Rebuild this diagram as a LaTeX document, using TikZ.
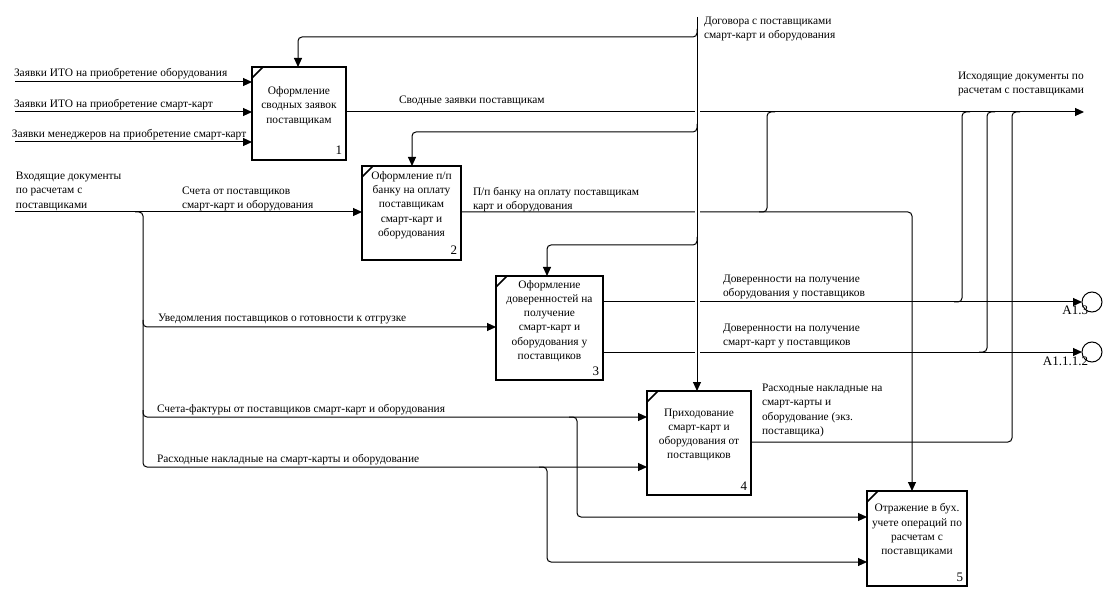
\documentclass[tikz,border=0pt]{standalone}
\usepackage{fontspec}
\setmainfont{Liberation Serif}
\usetikzlibrary{arrows.meta}
\newcommand{\lblfont}{\fontsize{11.4}{14.3}\selectfont}
\newcommand{\numfont}{\fontsize{13}{14}\selectfont}
\begin{document}
\begin{tikzpicture}[x=1pt,y=-1pt,
  every node/.style={inner sep=0pt, outer sep=0pt},
  conn/.style={line width=1pt, rounded corners=4pt},
  arr/.style={conn, -{Triangle[length=9pt,width=8pt]}},
  fbox/.style={draw, line width=2.2pt, outer sep=0pt},
  btext/.style={font=\lblfont, align=center},
  bnum/.style={font=\numfont, anchor=base east},
  lbl/.style={font=\lblfont, align=left, anchor=north west},
  tun/.style={draw, circle, line width=1pt, minimum size=20pt},
  tunlbl/.style={font=\numfont, anchor=base east}]
\useasboundingbox (0,0) rectangle (1104,604);

% ---------------- boxes ----------------
\node[fbox, minimum width=94pt, minimum height=93pt] (b1) at (299,113.5) {};
\node[fbox, minimum width=99pt, minimum height=94pt] (b2) at (411.5,213) {};
\node[fbox, minimum width=107pt, minimum height=104pt] (b3) at (549.5,328) {};
\node[fbox, minimum width=104pt, minimum height=104pt] (b4) at (699,443) {};
\node[fbox, minimum width=100pt, minimum height=95pt] (b5) at (917,538.5) {};

\foreach \b in {b1,b2,b3,b4,b5}
  \draw[line width=1.5pt] ([yshift=-11pt]\b.north west) -- ([xshift=11pt]\b.north west);

\node[btext] (t1) at ([yshift=7.5pt]b1.center) {Оформление\\сводных заявок\\поставщикам};
\node[btext] (t2) at ([yshift=8pt]b2.center) {Оформление п/п\\банку на оплату\\поставщикам\\смарт-карт и\\оборудования};
\node[btext] (t3) at ([yshift=7pt]b3.center) {Оформление\\доверенностей на\\получение\\смарт-карт и\\оборудования у\\поставщиков};
\node[btext] (t4) at ([yshift=8pt]b4.center) {Приходование\\смарт-карт и\\оборудования от\\поставщиков};
\node[btext] (t5) at ([yshift=8pt]b5.center) {Отражение в бух.\\учете операций по\\расчетам с\\поставщиками};

\node[bnum] (n1) at ([xshift=-4pt,yshift=5pt]b1.south east) {1};
\node[bnum] (n2) at ([xshift=-4pt,yshift=5pt]b2.south east) {2};
\node[bnum] (n3) at ([xshift=-4pt,yshift=5pt]b3.south east) {3};
\node[bnum] (n4) at ([xshift=-4pt,yshift=5pt]b4.south east) {4};
\node[bnum] (n5) at ([xshift=-4pt,yshift=5pt]b5.south east) {5};

% ---------------- free ends ----------------
\coordinate (i1) at (15,82);
\coordinate (i2) at (15,112);
\coordinate (i3) at (15,142);
\coordinate (inL) at (15,212);
\coordinate (dTop) at (697,17);
\coordinate (oEnd) at (1084,112);
\coordinate (pp) at (912,212);

\node[tun] (tun1) at (1092,302) {};
\node[tun] (tun2) at (1092,352) {};

% ---------------- horizontal lines crossing the control line ----------------
\draw[arr] (b1.east |- oEnd) -- (oEnd);
\draw[arr] (b2.east |- pp) -- (pp) -- (pp |- b5.north);
\draw[arr] (b3.east |- tun1.west) -- (tun1.west);
\draw[arr] (b3.east |- tun2.west) -- (tun2.west);

% gap in crossing lines
\draw[white, line width=5pt] (697,20) -- (697,385);

% ---------------- control: contracts ----------------
\draw[arr] (dTop) -- (dTop |- b4.north);
\draw[arr] (697,29) -- (697,37) -- (298,37) -- (298,67);
\draw[arr] (697,124) -- (697,132) -- (412,132) -- (412,166);
\draw[arr] (697,237) -- (697,245) -- (547,245) -- (547,276);

% ---------------- inputs to box 1 ----------------
\draw[arr] (i1) -- (i1 -| b1.west);
\draw[arr] (i2) -- (i2 -| b1.west);
\draw[arr] (i3) -- (i3 -| b1.west);

% ---------------- joins into outgoing documents ----------------
\draw[conn] (759,212) -- (767,212) -- (767,112) -- (775,112);
\draw[conn] (954,302) -- (962,302) -- (962,112) -- (970,112);
\draw[conn] (979,352) -- (987,352) -- (987,112) -- (995,112);
\draw[conn] (b4.east |- 0,442) -- (1012,442) -- (1012,112) -- (1020,112);

% ---------------- incoming documents ----------------
\draw[arr] (inL) -- (inL -| b2.west);
\draw[arr] (135,212) -- (143,212) -- (143,467) -- (b4.west |- 0,467);
\draw[arr] (143,320) -- (143,327) -- (b3.west |- 0,327);
\draw[arr] (143,410) -- (143,417) -- (b4.west |- 0,417);
\draw[arr] (569,417) -- (577,417) -- (577,517) -- (b5.west |- 0,517);
\draw[arr] (539,467) -- (547,467) -- (547,562) -- (b5.west |- 0,562);

% ---------------- labels ----------------
\node[lbl] (l1) at (14,68) {Заявки ИТО на приобретение оборудования};
\node[lbl] (l2) at (14,99) {Заявки ИТО на приобретение смарт-карт};
\node[lbl] (l3) at (12,129) {Заявки менеджеров на приобретение смарт-карт};
\node[lbl] (l4) at (399,96) {Сводные заявки поставщикам};
\node[lbl] (l5) at (704,17) {Договора с поставщиками\\смарт-карт и оборудования};
\node[lbl] (l6) at (958,72) {Исходящие документы по\\расчетам с поставщиками};
\node[lbl] (l7) at (16,172) {Входящие документы\\по расчетам с\\поставщиками};
\node[lbl] (l8) at (182,187) {Счета от поставщиков\\смарт-карт и оборудования};
\node[lbl] (l9) at (473,187) {П/п банку на оплату поставщикам\\карт и оборудования};
\node[lbl] (l10) at (158,314) {Уведомления поставщиков о готовности к отгрузке};
\node[lbl] (l11) at (157,404) {Счета-фактуры от поставщиков смарт-карт и оборудования};
\node[lbl] (l12) at (157,454) {Расходные накладные на смарт-карты и оборудование};
\node[lbl] (l13) at (723,275) {Доверенности на получение\\оборудования у поставщиков};
\node[lbl] (l14) at (723,324) {Доверенности на получение\\смарт-карт у поставщиков};
\node[lbl] (l15) at (762,384) {Расходные накладные на\\смарт-карты и\\оборудование (экз.\\поставщика)};

\node[tunlbl] (tl1) at (1088,315) {A1.3};
\node[tunlbl] (tl2) at (1088,365) {A1.1.1.2};
\end{tikzpicture}
\end{document}
